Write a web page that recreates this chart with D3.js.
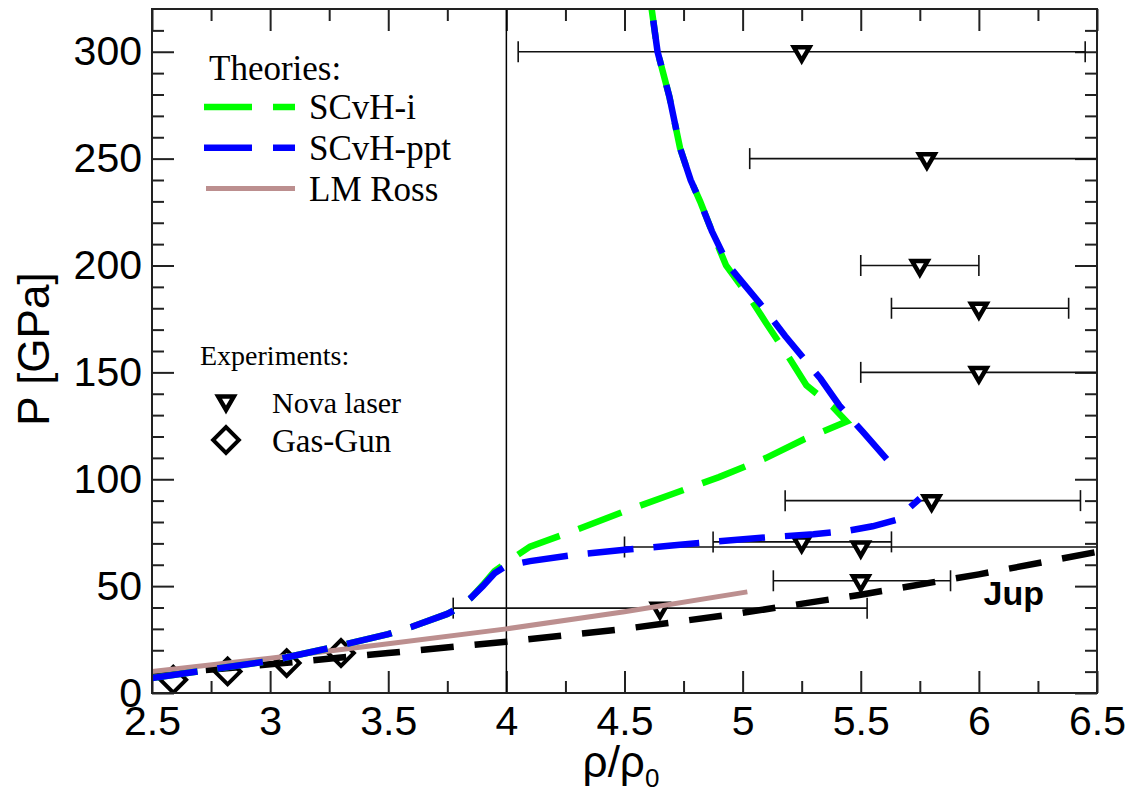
<!DOCTYPE html>
<html>
<head>
<meta charset="utf-8">
<script src="https://cdn.jsdelivr.net/npm/d3@7"></script>
<style>
  body { margin: 0; background: #fff; }
  svg { display: block; }
</style>
</head>
<body>
<div id="chart"></div>
<script>
// axis ticks
const xMajor = [2.5, 3, 3.5, 4, 4.5, 5, 5.5, 6, 6.5];
const xMinor = [2.75, 3.25, 3.75, 4.25, 4.75, 5.25, 5.75, 6.25];
const yMajor = [0, 50, 100, 150, 200, 250, 300];
const yMinor = d3.range(10, 320, 10).filter(v => v % 50 !== 0);

// theory curves [rho/rho0, P]
const scvhI = [[2.5, 7], [2.75, 11], [3.0, 15], [3.25, 21], [3.5, 27.5], [3.6, 31], [3.75, 37],
  [3.8, 40], [3.85, 44.5], [3.9, 50.5], [3.95, 57], [4.0, 61], [4.1, 68.5], [4.3, 76.5],
  [4.5, 85], [4.7, 93], [4.9, 101], [5.1, 110], [5.26, 118.7], [5.44, 127], [5.38, 134],
  [5.27, 144], [5.19, 158], [5.1, 173], [5.03, 185], [4.93, 200], [4.87, 216], [4.82, 230],
  [4.78, 240], [4.735, 255], [4.69, 279], [4.64, 300], [4.615, 320], [4.6, 330]];
const scvhPptLow = [[2.5, 7], [2.75, 11], [3.0, 15], [3.25, 21], [3.5, 27.5], [3.6, 31], [3.75, 37],
  [3.8, 40], [3.85, 44.5], [3.9, 50], [3.95, 56], [4.0, 59.5], [4.1, 61.7], [4.3, 64.8],
  [4.5, 67], [4.7, 69], [4.9, 71], [5.1, 72.8], [5.3, 74.3], [5.45, 76], [5.55, 78],
  [5.65, 81], [5.7, 86], [5.75, 91]];
const scvhPptHigh = [[5.61, 109.4], [5.51, 122], [5.41, 134.4], [5.33, 147], [5.18, 167],
  [5.09, 180], [5.0, 192], [4.94, 200], [4.87, 216], [4.82, 230], [4.78, 240], [4.735, 255],
  [4.69, 279], [4.64, 300], [4.615, 320], [4.6, 330]];
const lmRoss = [[2.5, 10], [3.0, 16.3], [3.5, 23], [4.0, 30], [4.5, 38], [5.02, 47.3]];
const jupiter = [[2.5, 8.5], [3.0, 13.4], [3.5, 18.7], [4.0, 24], [4.5, 30], [5.0, 37.5],
  [5.5, 46], [6.0, 55.5], [6.5, 66]];

// Nova laser points with horizontal error bars
const novaRho = [5.25, 5.78, 5.75, 6.0, 6.0, 5.8, 5.25, 5.5, 5.5, 4.65];
const novaP = [300, 250, 200, 180, 150, 90, 70.7, 68.3, 52.5, 39.7];
const novaLo = [4.05, 5.03, 5.5, 5.63, 5.5, 5.18, 4.875, 4.5, 5.13, 3.775];
const novaHi = [6.45, 6.55, 6.0, 6.38, 6.5, 6.43, 5.63, 6.5, 5.88, 5.527];

// Gas-gun points
const gasRho = [2.59, 2.82, 3.07, 3.30];
const gasP = [6.2, 10.1, 14, 18.7];

const W = 1135, H = 796;
const L = 152, R = 1097, T = 9, B = 693;

const svg = d3.select("#chart").append("svg")
  .attr("width", W).attr("height", H)
  .style("background", "#fff");

const x = d3.scaleLinear().domain([2.5, 6.5]).range([L, R]);
const y = d3.scaleLinear().domain([0, 320]).range([B, T]);

svg.append("clipPath").attr("id", "clip")
  .append("rect").attr("x", L).attr("y", T).attr("width", R - L).attr("height", B - T);

const sans = "'Liberation Sans', Arial, Helvetica, sans-serif";
const serif = "'Liberation Serif', 'Times New Roman', serif";

// axes (ticks point inward)
function addAxis(axis, tr, labels) {
  const g = svg.append("g").attr("transform", tr).call(axis);
  g.select(".domain").remove();
  g.selectAll(".tick line").attr("stroke", "#222").attr("stroke-width", 2);
  g.selectAll("text").attr("font-family", sans).attr("font-size", 41).attr("fill", "#000");
  if (!labels) g.selectAll("text").remove();
  return g;
}
const fmt = d => String(d);
addAxis(d3.axisBottom(x).tickValues(xMajor).tickSize(-22).tickPadding(13).tickFormat(fmt), `translate(0,${B})`, true);
addAxis(d3.axisBottom(x).tickValues(xMinor).tickSize(-12), `translate(0,${B})`, false);
addAxis(d3.axisTop(x).tickValues(xMajor).tickSize(-22), `translate(0,${T})`, false);
addAxis(d3.axisTop(x).tickValues(xMinor).tickSize(-12), `translate(0,${T})`, false);
addAxis(d3.axisLeft(y).tickValues(yMajor).tickSize(-22).tickPadding(10).tickFormat(fmt), `translate(${L},0)`, true);
addAxis(d3.axisLeft(y).tickValues(yMinor).tickSize(-12), `translate(${L},0)`, false);
addAxis(d3.axisRight(y).tickValues(yMajor).tickSize(-22), `translate(${R},0)`, false);
addAxis(d3.axisRight(y).tickValues(yMinor).tickSize(-12), `translate(${R},0)`, false);

const plot = svg.append("g").attr("clip-path", "url(#clip)");

// vertical reference line at rho/rho0 = 4
plot.append("line")
  .attr("x1", x(4)).attr("x2", x(4)).attr("y1", T).attr("y2", B)
  .attr("stroke", "#000").attr("stroke-width", 1.5);

// error bars
const nova = novaRho.map((r, i) => ({ r, p: novaP[i], lo: novaLo[i], hi: novaHi[i] }));
const eb = plot.append("g").attr("stroke", "#111").attr("stroke-width", 1.6);
nova.forEach(d => {
  eb.append("line").attr("x1", x(d.lo)).attr("x2", x(d.hi)).attr("y1", y(d.p)).attr("y2", y(d.p));
  [d.lo, d.hi].forEach(v => eb.append("line")
    .attr("x1", x(v)).attr("x2", x(v)).attr("y1", y(d.p) - 10.5).attr("y2", y(d.p) + 10.5));
});

const tri = d3.symbol().type(d3.symbolTriangle).size(105);
const dia = d3.symbol().type(d3.symbolSquare).size(330);

plot.selectAll(".nova").data(nova).join("path")
  .attr("d", tri)
  .attr("transform", d => `translate(${x(d.r)},${y(d.p)}) rotate(180)`)
  .attr("fill", "#fff").attr("stroke", "#000").attr("stroke-width", 4.5);

plot.selectAll(".gas").data(gasRho.map((r, i) => [r, gasP[i]])).join("path")
  .attr("d", dia)
  .attr("transform", d => `translate(${x(d[0])},${y(d[1])}) rotate(45)`)
  .attr("fill", "none").attr("stroke", "#000").attr("stroke-width", 4);

// curves
const line = d3.line().x(d => x(d[0])).y(d => y(d[1]));
plot.append("path").datum(jupiter).attr("d", line)
  .attr("fill", "none").attr("stroke", "#000").attr("stroke-width", 6.5)
  .attr("stroke-dasharray", "33,21");
plot.append("path").datum(lmRoss).attr("d", line)
  .attr("fill", "none").attr("stroke", "#bc8f8f").attr("stroke-width", 5);
plot.append("path").datum(scvhI).attr("d", line)
  .attr("fill", "none").attr("stroke", "#00ff00").attr("stroke-width", 6.5)
  .attr("stroke-dasharray", "46,20");
[scvhPptLow, scvhPptHigh].forEach(s => plot.append("path").datum(s).attr("d", line)
  .attr("fill", "none").attr("stroke", "#0000ff").attr("stroke-width", 6.5)
  .attr("stroke-dasharray", "46,20"));

// frame
svg.append("rect").attr("x", L).attr("y", T).attr("width", R - L).attr("height", B - T)
  .attr("fill", "none").attr("stroke", "#222").attr("stroke-width", 2);

// Jup label
svg.append("text").attr("x", x(6.02)).attr("y", y(41.2))
  .attr("font-family", sans).attr("font-weight", "bold").attr("font-size", 34).text("Jup");

// axis titles
const xt = svg.append("text").attr("x", 621).attr("y", 777).attr("text-anchor", "middle")
  .attr("font-family", sans).attr("font-size", 44);
xt.append("tspan").text("ρ/ρ");
xt.append("tspan").attr("font-size", 26).attr("dy", 10).text("0");

svg.append("text").attr("transform", "translate(49,349) rotate(-90)")
  .attr("text-anchor", "middle").attr("font-family", sans).attr("font-size", 44)
  .text("P [GPa]");

// legend: theories
const leg = svg.append("g").attr("font-family", serif).attr("fill", "#000");
leg.append("text").attr("x", 209).attr("y", 80).attr("font-size", 35).text("Theories:");
const theories = [
  { label: "SCvH-i", color: "#00ff00", dash: "48,21", w: 6.5 },
  { label: "SCvH-ppt", color: "#0000ff", dash: "48,21", w: 6.5 },
  { label: "LM Ross", color: "#bc8f8f", dash: null, w: 5 }
];
theories.forEach((t, i) => {
  const yy = 107 + i * 40.8;
  leg.append("line").attr("x1", t.dash ? 204 : 206).attr("x2", 295).attr("y1", yy).attr("y2", yy)
    .attr("stroke", t.color).attr("stroke-width", t.w).attr("stroke-dasharray", t.dash);
  leg.append("text").attr("x", 309).attr("y", yy + 12).attr("font-size", 35).text(t.label);
});

// legend: experiments
leg.append("text").attr("x", 200).attr("y", 365).attr("font-size", 28).text("Experiments:");
leg.append("path").attr("d", tri).attr("transform", "translate(226,401) rotate(180)")
  .attr("fill", "#fff").attr("stroke", "#000").attr("stroke-width", 4.5);
leg.append("text").attr("x", 272).attr("y", 413).attr("font-size", 30).text("Nova laser");
leg.append("path").attr("d", dia).attr("transform", "translate(226,440) rotate(45)")
  .attr("fill", "none").attr("stroke", "#000").attr("stroke-width", 4);
leg.append("text").attr("x", 272).attr("y", 452).attr("font-size", 33).text("Gas-Gun");
</script>
</body>
</html>
